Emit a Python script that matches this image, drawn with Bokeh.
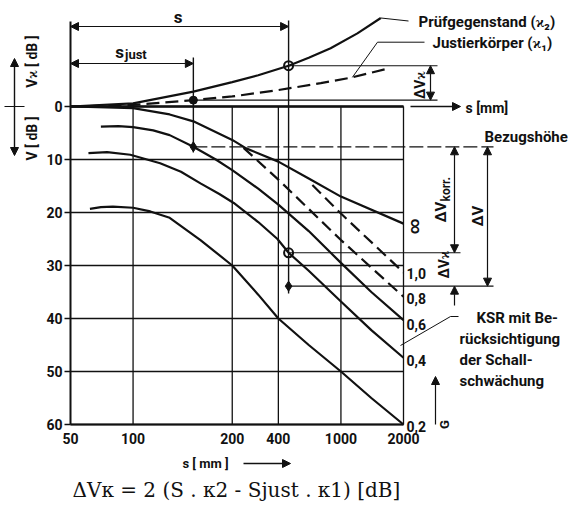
import math
from bokeh.plotting import figure
from bokeh.models import Range1d, FixedTicker, Label, Arrow, NormalHead
from bokeh.embed import file_html
from bokeh.resources import INLINE

# ---------------- chart values ----------------
x_ticks = [50, 100, 300, 500, 1000, 2000]
x_tick_labels = ["50", "100", "200", "400", "1000", "2000"]
y_ticks = [0, 10, 20, 30, 40, 50, 60]

# DGS curves: distance s [mm] -> gain V [dB] (drawn downward)
s_inf = [50, 100, 150, 195, 300, 350, 500, 700, 1000, 2000]
v_inf = [0, 0.3, 1.5, 2.8, 6.3, 7.9, 10.4, 13.6, 17.0, 22.1]

s_g10 = [729, 1000, 2000]            # dashed
v_g10 = [14.8, 20.2, 31.3]
s_g08 = [340, 500, 1000, 2000]       # dashed
v_g08 = [7.8, 13.8, 25.2, 35.9]

s_g06 = [70, 85, 100, 125, 150, 195, 250, 300, 400, 500, 700, 1000, 1400, 2000]
v_g06 = [3.8, 3.7, 3.9, 4.5, 5.4, 7.6, 10.0, 12.0, 15.5, 18.5, 23.5, 29.5, 35.0, 40.3]
s_g04 = [61, 75, 97, 135, 170, 211, 260, 305, 400, 495, 560, 700, 1000, 1400, 2000]
v_g04 = [8.8, 8.6, 9.1, 10.7, 12.3, 14.5, 16.5, 18.2, 21.8, 25.0, 27.6, 31.0, 36.8, 42.2, 47.4]
s_g02 = [62, 70, 80, 100, 121, 150, 211, 300, 400, 500, 700, 1000, 1400, 2000]
v_g02 = [19.3, 19.0, 18.9, 19.1, 19.8, 21.0, 25.2, 30.0, 35.5, 40.0, 45.0, 50.0, 55.0, 60.0]

curve_labels = ["\u221e", "1,0", "0,8", "0,6", "0,4", "0,2"]

# transfer-correction curves V_kappa (upward = negative)
s_k2 = [50, 100, 195, 300, 400, 560, 700, 892, 1200, 1555]     # Pruefgegenstand
v_k2 = [0, -0.6, -2.8, -4.6, -5.9, -7.7, -9.2, -11.0, -13.8, -16.7]
s_k1 = [50, 100, 195, 300, 500, 800, 1135, 1698]               # Justierkoerper
v_k1 = [0, -0.3, -1.2, -1.9, -3.1, -4.4, -5.5, -7.2]

s_just = 195
s_test = 560
v_bezug = 7.6
v_k1_just = -1.2
v_k2_s = -7.7
v_korr = 27.6
v_meas = 33.9

# ---------------- layout helpers (picture pixel -> data, for annotations) ----------------
PX_DEC = 333 / math.log10(2000 / 50)
PX_DB = 318 / 60.0


def sx(px):
    return 50 * 10 ** ((px - 70) / PX_DEC)


def vy(py):
    return (py - 106) / PX_DB


W, H = 568, 504
FONT = "Roboto"
SERIF = "DejaVu Serif"
INK = "#111111"

p = figure(width=W, height=H, x_axis_type="log",
           x_range=Range1d(sx(0), sx(W)), y_range=Range1d(vy(H), vy(0)),
           output_backend="svg", toolbar_location=None,
           min_border_left=0, min_border_right=0, min_border_top=0, min_border_bottom=0)
p.outline_line_color = None
p.background_fill_color = "white"
p.border_fill_color = "white"
p.xgrid.visible = False
p.ygrid.visible = False

# axes, placed at the chart's own origin lines
xa = p.xaxis[0]
xa.fixed_location = 60
xa.bounds = (50, 2000)
xa.ticker = FixedTicker(ticks=x_ticks)
xa.major_label_overrides = dict(zip(x_ticks, x_tick_labels))
xa.minor_tick_line_color = None
xa.major_tick_out = 0
xa.major_tick_in = 0
xa.axis_line_width = 2
xa.axis_line_color = INK
xa.major_label_standoff = 8
xa.major_label_text_font = FONT
xa.major_label_text_font_size = "14px"
xa.major_label_text_font_style = "bold"
xa.major_label_text_color = INK

ya = p.yaxis[0]
ya.fixed_location = 50
ya.bounds = (-16.0, 60)
ya.ticker = FixedTicker(ticks=y_ticks)
ya.axis_line_width = 2
ya.axis_line_color = INK
ya.major_tick_out = 6
ya.major_tick_in = 0
ya.major_tick_line_width = 1.5
ya.major_tick_line_color = INK
ya.minor_tick_line_color = None
ya.major_label_standoff = 2
ya.major_label_text_font = FONT
ya.major_label_text_font_size = "14px"
ya.major_label_text_font_style = "bold"
ya.major_label_text_color = INK

# grid lines of the V area
n_y = len(y_ticks)
p.segment(x0=[x_ticks[0]] * n_y, y0=y_ticks, x1=[x_ticks[-1]] * n_y, y1=y_ticks,
          line_color=INK, line_width=1.3)
inner = x_ticks[1:]
p.segment(x0=inner, y0=[y_ticks[0]] * len(inner), x1=inner, y1=[y_ticks[-1]] * len(inner),
          line_color=INK, line_width=1.3)


def seg(x0, y0, x1, y1, w=1.2, start=False, end=False, dash="solid"):
    def head():
        return NormalHead(size=8, fill_color=INK, line_color=INK, line_width=1)
    p.add_layout(Arrow(x_start=x0, y_start=y0, x_end=x1, y_end=y1,
                       line_width=w, line_color=INK, line_dash=dash,
                       start=head() if start else None, end=head() if end else None))


def lab(x, y, text, size=15, align="left", baseline="middle", angle=0.0,
        font=FONT, style="bold"):
    p.add_layout(Label(x=x, y=y, text=text, text_font=font, text_font_size=f"{size}px",
                       text_font_style=style, text_align=align, text_baseline=baseline,
                       angle=angle, text_color=INK))


# origin line and s-arrow
seg(50, 0, 2000, 0, w=2.4)
seg(sx(410), 0, sx(460), 0, w=1.4, end=True)

# curves
CW = 2.2
p.line(s_inf, v_inf, line_color=INK, line_width=CW)
p.line(s_g06, v_g06, line_color=INK, line_width=CW)
p.line(s_g04, v_g04, line_color=INK, line_width=CW)
p.line(s_g02, v_g02, line_color=INK, line_width=CW)
p.line(s_g10, v_g10, line_color=INK, line_width=CW, line_dash="12 6")
p.line(s_g08, v_g08, line_color=INK, line_width=CW, line_dash="12 6")
p.line(s_k2, v_k2, line_color=INK, line_width=CW)
p.line(s_k1, v_k1, line_color=INK, line_width=CW, line_dash="13 6")

# construction lines
p.segment(x0=[s_just, s_test], y0=[vy(57), vy(20)], x1=[s_just, s_test], y1=[vy(152), vy(293)],
          line_color=INK, line_width=1.4)
seg(s_just, v_k1_just, sx(437), v_k1_just, w=1.1)
seg(s_test, v_k2_s, sx(437), v_k2_s, w=1.1)
seg(s_just, v_bezug, sx(493), v_bezug, w=1.3, dash="14 4")
seg(s_test, v_korr, sx(460), v_korr, w=1.1)
seg(s_test, v_meas, sx(493), v_meas, w=1.1)

# markers
p.scatter([s_just], [v_k1_just], marker="circle", size=8, color=INK)
p.scatter([s_test, s_test], [v_k2_s, v_korr], marker="circle", size=9,
          line_color=INK, line_width=2, fill_alpha=0)
p.scatter([s_just, s_test], [v_bezug, v_meas], marker="diamond", size=10, color=INK)

# dimension arrows
seg(50, vy(26), s_test, vy(26), w=1.2, start=True, end=True)
seg(50, vy(63), s_just, vy(63), w=1.2, start=True, end=True)
seg(sx(430), v_k2_s, sx(430), v_k1_just, w=1.2, start=True, end=True)
seg(sx(454), v_bezug, sx(454), v_korr, w=1.2, start=True, end=True)
seg(sx(487), v_bezug, sx(487), v_meas, w=1.2, start=True, end=True)
seg(sx(454), vy(305), sx(454), v_meas, w=1.2, end=True)
seg(sx(435), 60, sx(435), vy(376), w=1.2, end=True)
seg(sx(243), vy(463), sx(290), vy(463), w=1.4, end=True)
seg(sx(14), vy(58), sx(14), vy(155), w=1.4, start=True, end=True)
seg(sx(4), 0, sx(24), 0, w=1.2)

# leader lines
seg(s_k2[-1], v_k2[-1], sx(408), vy(20.5), w=1.0)
seg(s_k1[-2], v_k1[-2], sx(377), vy(41.7), w=1.0)
seg(sx(377), vy(41.7), sx(424), vy(41.7), w=1.0)
seg(sx(400), vy(345), sx(450), vy(316), w=1.0)
seg(sx(450), vy(316), sx(458), vy(316), w=1.0)

# texts
R = math.pi / 2
lab(sx(177.5), vy(16), "s", size=17, align="center")
lab(sx(119), vy(51), "s", size=17, align="center")
lab(sx(124.5), vy(54), "just", size=13)
lab(sx(418), vy(21.5), "Pr\u00fcfgegenstand (\u03f0\u2082)", size=15)
lab(sx(432), vy(42), "Justierk\u00f6rper (\u03f0\u2081)", size=15)
lab(sx(465), vy(107), "s [mm]", size=14)
lab(sx(484), vy(136), "Bezugsh\u00f6he", size=15)
lab(sx(419), vy(98.5), "\u0394V\u03f0", size=14, angle=R)
lab(sx(440), vy(222), "\u0394V", size=15, angle=R)
lab(sx(445), vy(201), "korr.", size=12, angle=R)
lab(sx(477), vy(226), "\u0394V", size=15, angle=R)
lab(sx(443), vy(278), "\u0394V\u03f0", size=14, angle=R)
lab(sx(443.5), vy(424), "G", size=13, align="center", angle=R)
lab(sx(31.5), vy(61), "V\u03f0 [ dB ]", size=14, align="center", angle=R)
lab(sx(31.5), vy(138), "V [ dB ]", size=14, align="center", angle=R)
lab(sx(205), vy(463), "s [ mm ]", size=13, align="center")

label_v = [vy(226), vy(272.5), vy(297.5), vy(324), vy(360), vy(426)]
lab(sx(413), label_v[0], curve_labels[0], size=15, align="center", angle=R)
for t, v in zip(curve_labels[1:], label_v[1:]):
    lab(sx(406), v, t, size=14)

ksr_lines = ["KSR mit Be-", "r\u00fccksichtigung", "der Schall-", "schw\u00e4chung"]
ksr_x = [476, 459, 459, 459]
ksr_y = [317, 338, 359, 380]
for t, xx, yy in zip(ksr_lines, ksr_x, ksr_y):
    lab(sx(xx), vy(yy), t, size=15)

lab(sx(72), vy(489), "\u0394V\u03ba = 2 (S . \u03ba2 - Sjust . \u03ba1) [dB]", size=20,
    font=SERIF, style="normal")

open("out.html", "w").write(file_html(p, INLINE))
